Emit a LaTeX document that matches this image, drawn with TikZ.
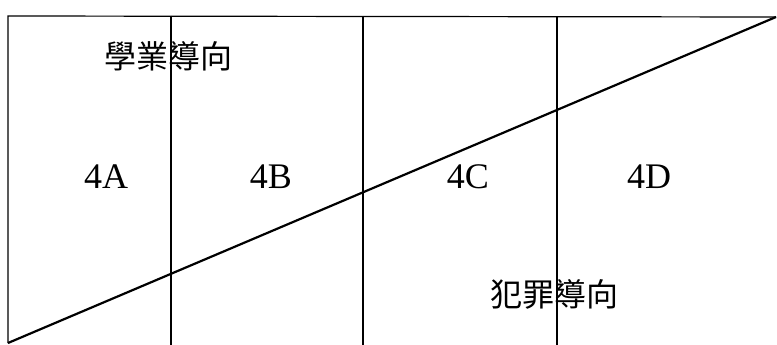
\documentclass[tikz,border=0pt]{standalone}
\usepackage{fontspec}
\setmainfont{Liberation Serif}
\newfontfamily\cjk{Noto Sans CJK TC}
\usepackage{tikz}

\begin{document}
\begin{tikzpicture}[x=1pt,y=-1pt,
    cell/.style={inner sep=0pt, font=\fontsize{36}{36}\selectfont},
    tag/.style={inner sep=0pt, font=\cjk\fontsize{32}{32}\selectfont}]
  \useasboundingbox (0,0) rectangle (777,345);
  \coordinate (tl) at (8,16);
  \coordinate (bl) at (8,343);
  \coordinate (tr) at (776,17);
  \draw[line width=1.2pt] (bl) -- (tl) -- (tr);
  \draw[line width=2.2pt] (bl) -- (tr);
  \foreach \x in {171,363,557}
    \draw[line width=1.2pt] (\x,16) -- (\x,345);
  \node[tag] (acad) at (168,56) {學業導向};
  \node[cell] (a) at (106,177) {4A};
  \node[cell] (b) at (271,177) {4B};
  \node[cell] (c) at (468,177) {4C};
  \node[cell] (d) at (649,177) {4D};
  \node[tag] (crime) at (554,294) {犯罪導向};
\end{tikzpicture}
\end{document}
